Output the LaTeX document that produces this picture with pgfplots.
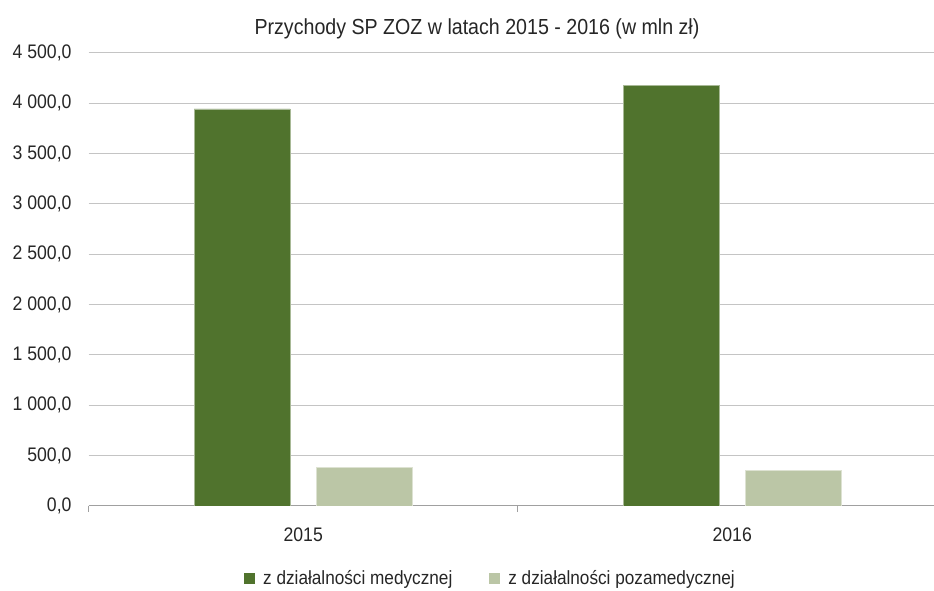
\documentclass[border=0pt]{standalone}
\usepackage{fontspec}
\setmainfont{Liberation Sans}[FakeStretch=0.9]
\usepackage{pgfplots}
\pgfplotsset{compat=1.18}
\definecolor{med}{HTML}{50732D}
\definecolor{nonmed}{HTML}{BBC6A6}
\definecolor{gridc}{HTML}{C4C4C4}
\definecolor{axisc}{HTML}{A0A0A0}
\definecolor{txt}{HTML}{262626}
\begin{document}
\begin{tikzpicture}[x=1pt,y=1pt]
\path[use as bounding box, clip] (0,0) rectangle (934,591);
\node[anchor=base, font=\fontsize{21.8}{24}\selectfont, text=txt] at (477,556) {Przychody SP ZOZ w latach 2015 - 2016 (w mln zł)};
\begin{axis}[
  at={(88.7pt,85pt)}, anchor=south west,
  scale only axis, width=858pt, height=453.3pt,
  xmin=-0.5, xmax=1.5, ymin=0, ymax=4500,
  ybar=26pt, bar width=96pt,
  axis lines*=left,
  y axis line style={draw=none},
  x axis line style={draw=axisc, line width=1pt},
  xtick={0,1}, xticklabels={2015,2016},
  major x tick style={draw=none},
  extra x ticks={-0.5,0.5,1.5}, extra x tick labels={},
  extra x tick style={major tick length=6pt, tick align=outside, major x tick style={draw=axisc, line width=1pt}, grid=none},
  ytick={0,500,...,4500}, ymajorgrids, grid style={gridc, line width=1pt},
  major y tick style={draw=none},
  scaled y ticks=false,
  /pgf/number format/fixed, /pgf/number format/fixed zerofill, /pgf/number format/precision=1,
  /pgf/number format/use comma, /pgf/number format/1000 sep={\ }, /pgf/number format/assume math mode=true,
  tick label style={font=\fontsize{19.6}{21}\selectfont, text=txt},
  yticklabel style={anchor=east, inner sep=0pt, xshift=-17pt},
  xticklabel style={anchor=base, yshift=-31pt},
  legend style={at={(0.4683,-0.159)}, anchor=center, draw=none, legend columns=2,
    font=\fontsize{19.1}{21}\selectfont, text=txt,
    /tikz/every odd column/.append style={column sep=6pt},
    /tikz/every even column/.append style={column sep=35pt}},
  legend image code/.code={\fill[#1,draw=none] (0pt,-5.5pt) rectangle (11pt,5.5pt);},
]
\addplot[fill=med, draw=med!50!white, line width=0.75pt] coordinates {(0,3942) (1,4173)};
\addplot[fill=nonmed, draw=nonmed!50!white, line width=0.75pt] coordinates {(0,380) (1,350)};
\legend{z działalności medycznej, z działalności pozamedycznej}
\end{axis}
\end{tikzpicture}
\end{document}
